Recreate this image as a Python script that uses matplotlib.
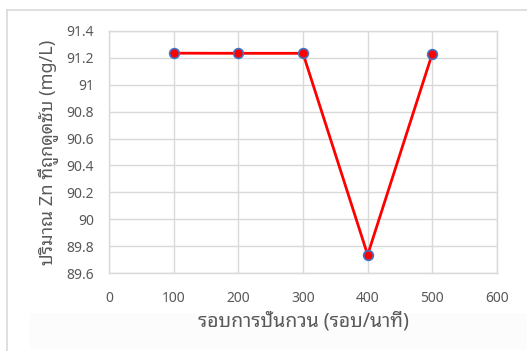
import matplotlib
matplotlib.use("Agg")
import matplotlib.pyplot as plt
from matplotlib.lines import Line2D
from matplotlib.patches import Rectangle

# mixing speed (rpm) vs Zn adsorbed (mg/L)
speed = [100, 200, 300, 400, 500]
zn = [91.235, 91.234, 91.234, 89.735, 91.232]
yticks = [89.6, 89.8, 90.0, 90.2, 90.4, 90.6, 90.8, 91.0, 91.2, 91.4]
xticks = [0, 100, 200, 300, 400, 500, 600]

tick_fonts = ["Noto Sans", "DejaVu Sans"]
label_fonts = ["Noto Sans Thai Looped", "Noto Sans", "DejaVu Sans"]
grey = "#595959"
gridc = "#d9d9d9"

fig = plt.figure(figsize=(5.27, 3.51), dpi=100)
ax = fig.add_axes([0.2068, 0.2222, 0.7362, 0.6895])

# chart frame and the faint band at the bottom
fig.add_artist(Rectangle((30 / 527, 0.005), 1, 36 / 351, transform=fig.transFigure,
                         facecolor="#fcfcfc", edgecolor="none", zorder=0))
fig.add_artist(Line2D([7 / 527, 7 / 527], [0, 1 - 10 / 351], transform=fig.transFigure,
                      color=gridc, lw=1.2))
fig.add_artist(Line2D([7 / 527, 1], [1 - 10 / 351, 1 - 10 / 351], transform=fig.transFigure,
                      color=gridc, lw=1.2))

ax.plot(speed, zn, color="#ff0000", lw=2.0, marker="o", ms=7,
        markerfacecolor="#ff0000", markeredgecolor="#4472c4", markeredgewidth=1.2,
        zorder=3, clip_on=False)

ax.set_xlim(0, 600)
ax.set_ylim(89.6, 91.4)
ax.set_xticks(xticks)
ax.set_yticks(yticks)
ax.set_yticklabels([f"{round(v, 1):g}" for v in yticks])
ax.grid(True, color=gridc, lw=1.0)
ax.set_axisbelow(True)
for s in ax.spines.values():
    s.set_color(gridc)
    s.set_linewidth(1.0)
ax.tick_params(length=0, colors=grey, labelsize=10)
ax.tick_params(axis="y", pad=11)
ax.tick_params(axis="x", pad=13)
for lab in ax.get_xticklabels() + ax.get_yticklabels():
    lab.set_family(tick_fonts)

ax.set_xlabel("รอบการปั่นกวน (รอบ/นาที)", family=label_fonts, fontsize=14, color=grey, labelpad=4)
ax.set_ylabel("ปริมาณ Zn ที่ถูกดูดซับ (mg/L)", family=label_fonts, fontsize=13, color=grey, labelpad=6)

fig.savefig("out.png", dpi=100)
